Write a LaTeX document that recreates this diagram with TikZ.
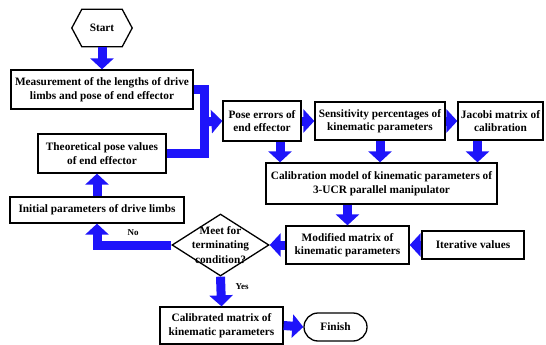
\documentclass[tikz,border=0pt]{standalone}
\usepackage{fontspec}
\setmainfont{Liberation Serif}
\usepackage{tikz}
\usetikzlibrary{calc}
\usetikzlibrary{shapes.geometric}
\usetikzlibrary{shapes.misc}
\usetikzlibrary{arrows.meta}
\definecolor{flowblue}{RGB}{30,20,250}

\begin{document}
\begin{tikzpicture}[
		x=1pt, y=-1pt,
		box/.style={draw=black, line width=1.3pt, fill=white, align=center, inner sep=1pt,
			font=\bfseries\fontsize{11.3}{13.5}\selectfont},
		flow/.style={draw=flowblue, line width=9pt, -{Triangle[width=23pt,length=11pt]}},
		pipe/.style={draw=flowblue, line width=9pt},
		tag/.style={font=\bfseries\fontsize{9}{11}\selectfont}
		]
		
		\useasboundingbox (0,0) rectangle (546,345);
		
		% Hexagon for start
		\node[font=\bfseries\fontsize{11.3}{13.5}\selectfont, minimum width=60pt, minimum height=37pt, inner sep=0pt] (start) at (102,28) {Start};
		\draw[line width=1.3pt] (start.west) -- ([xshift=10pt]start.north west) -- ([xshift=-10pt]start.north east)
			-- (start.east) -- ([xshift=-10pt]start.south east) -- ([xshift=10pt]start.south west) -- cycle;
		
		% Left column
		\node[box, minimum width=182pt, minimum height=39pt] (meas) at (102,89.5) {Measurement of the lengths of drive\\limbs and pose of end effector};
		\node[box, minimum width=128pt, minimum height=39pt] (theo) at (102,153.5) {Theoretical pose values\\of end effector};
		\node[box, minimum width=174pt, minimum height=26pt] (init) at (97,210) {Initial parameters of drive limbs};
		
		% Upper row
		\node[box, minimum width=78pt, minimum height=40pt] (pose) at (262,121) {Pose errors of\\end effector};
		\node[box, minimum width=130pt, minimum height=38pt] (sens) at (380,121) {Sensitivity percentages of\\kinematic parameters};
		\node[box, minimum width=85pt, minimum height=38pt] (jac) at (500.5,121) {Jacobi matrix of\\calibration};
		\node[box, minimum width=231pt, minimum height=41pt] (calib) at (381.5,183.5) {Calibration model of kinematic parameters of\\3-UCR parallel manipulator};
		
		% Loop row
		\node[box, minimum width=123pt, minimum height=38pt] (modif) at (347.5,245) {Modified matrix of\\kinematic parameters};
		\node[box, minimum width=102pt, minimum height=28pt] (iter) at (473,245) {Iterative values};
		\node[draw=black, line width=1.3pt, fill=white, diamond, inner sep=0pt, minimum width=97pt, minimum height=62pt,
			label={[align=center, font=\bfseries\fontsize{11.3}{14.5}\selectfont]center:Meet for\\terminating\\condition?}] (dia) at (220.5,245) {};
		
		% Output
		\node[box, minimum width=123pt, minimum height=37pt] (calbd) at (221.5,325.5) {Calibrated matrix of\\kinematic parameters};
		\node[box, rounded rectangle, minimum width=65pt, minimum height=28pt] (finish) at (335.5,327) {Finish};
		
		% Connections
		\coordinate (joint) at (204.5,122);
		\draw[flow] (start.south) -- (meas.north);
		\draw[pipe] (meas.east) -| (joint) |- (theo.east);
		\draw[flow] (joint) -- (pose.west);
		\draw[flow] (pose.east) -- (sens.west);
		\draw[flow] (sens.east) -- (jac.west);
		\draw[flow] ([xshift=18pt]pose.south) -- ([xshift=18pt]pose.south |- calib.north);
		\draw[flow] (sens.south) -- (sens.south |- calib.north);
		\draw[flow] ([xshift=-23pt]jac.south) -- ([xshift=-23pt]jac.south |- calib.north);
		\draw[flow] (modif.north |- calib.south) -- (modif.north);
		\draw[flow] (iter.west) -- (modif.east);
		\draw[flow] (modif.west) -- (dia.east);
		\draw[flow] (dia.west) -| (init.south);
		\draw[flow] (init.north) -- (init.north |- theo.south);
		\draw[flow] (dia.south) -- (calbd.north);
		\draw[flow] (calbd.east) -- (finish.west);
		
		% Branch labels
		\node[tag] (no) at (133,233) {No};
		\node[tag] (yes) at (242,287) {Yes};
		
	\end{tikzpicture}
\end{document}
